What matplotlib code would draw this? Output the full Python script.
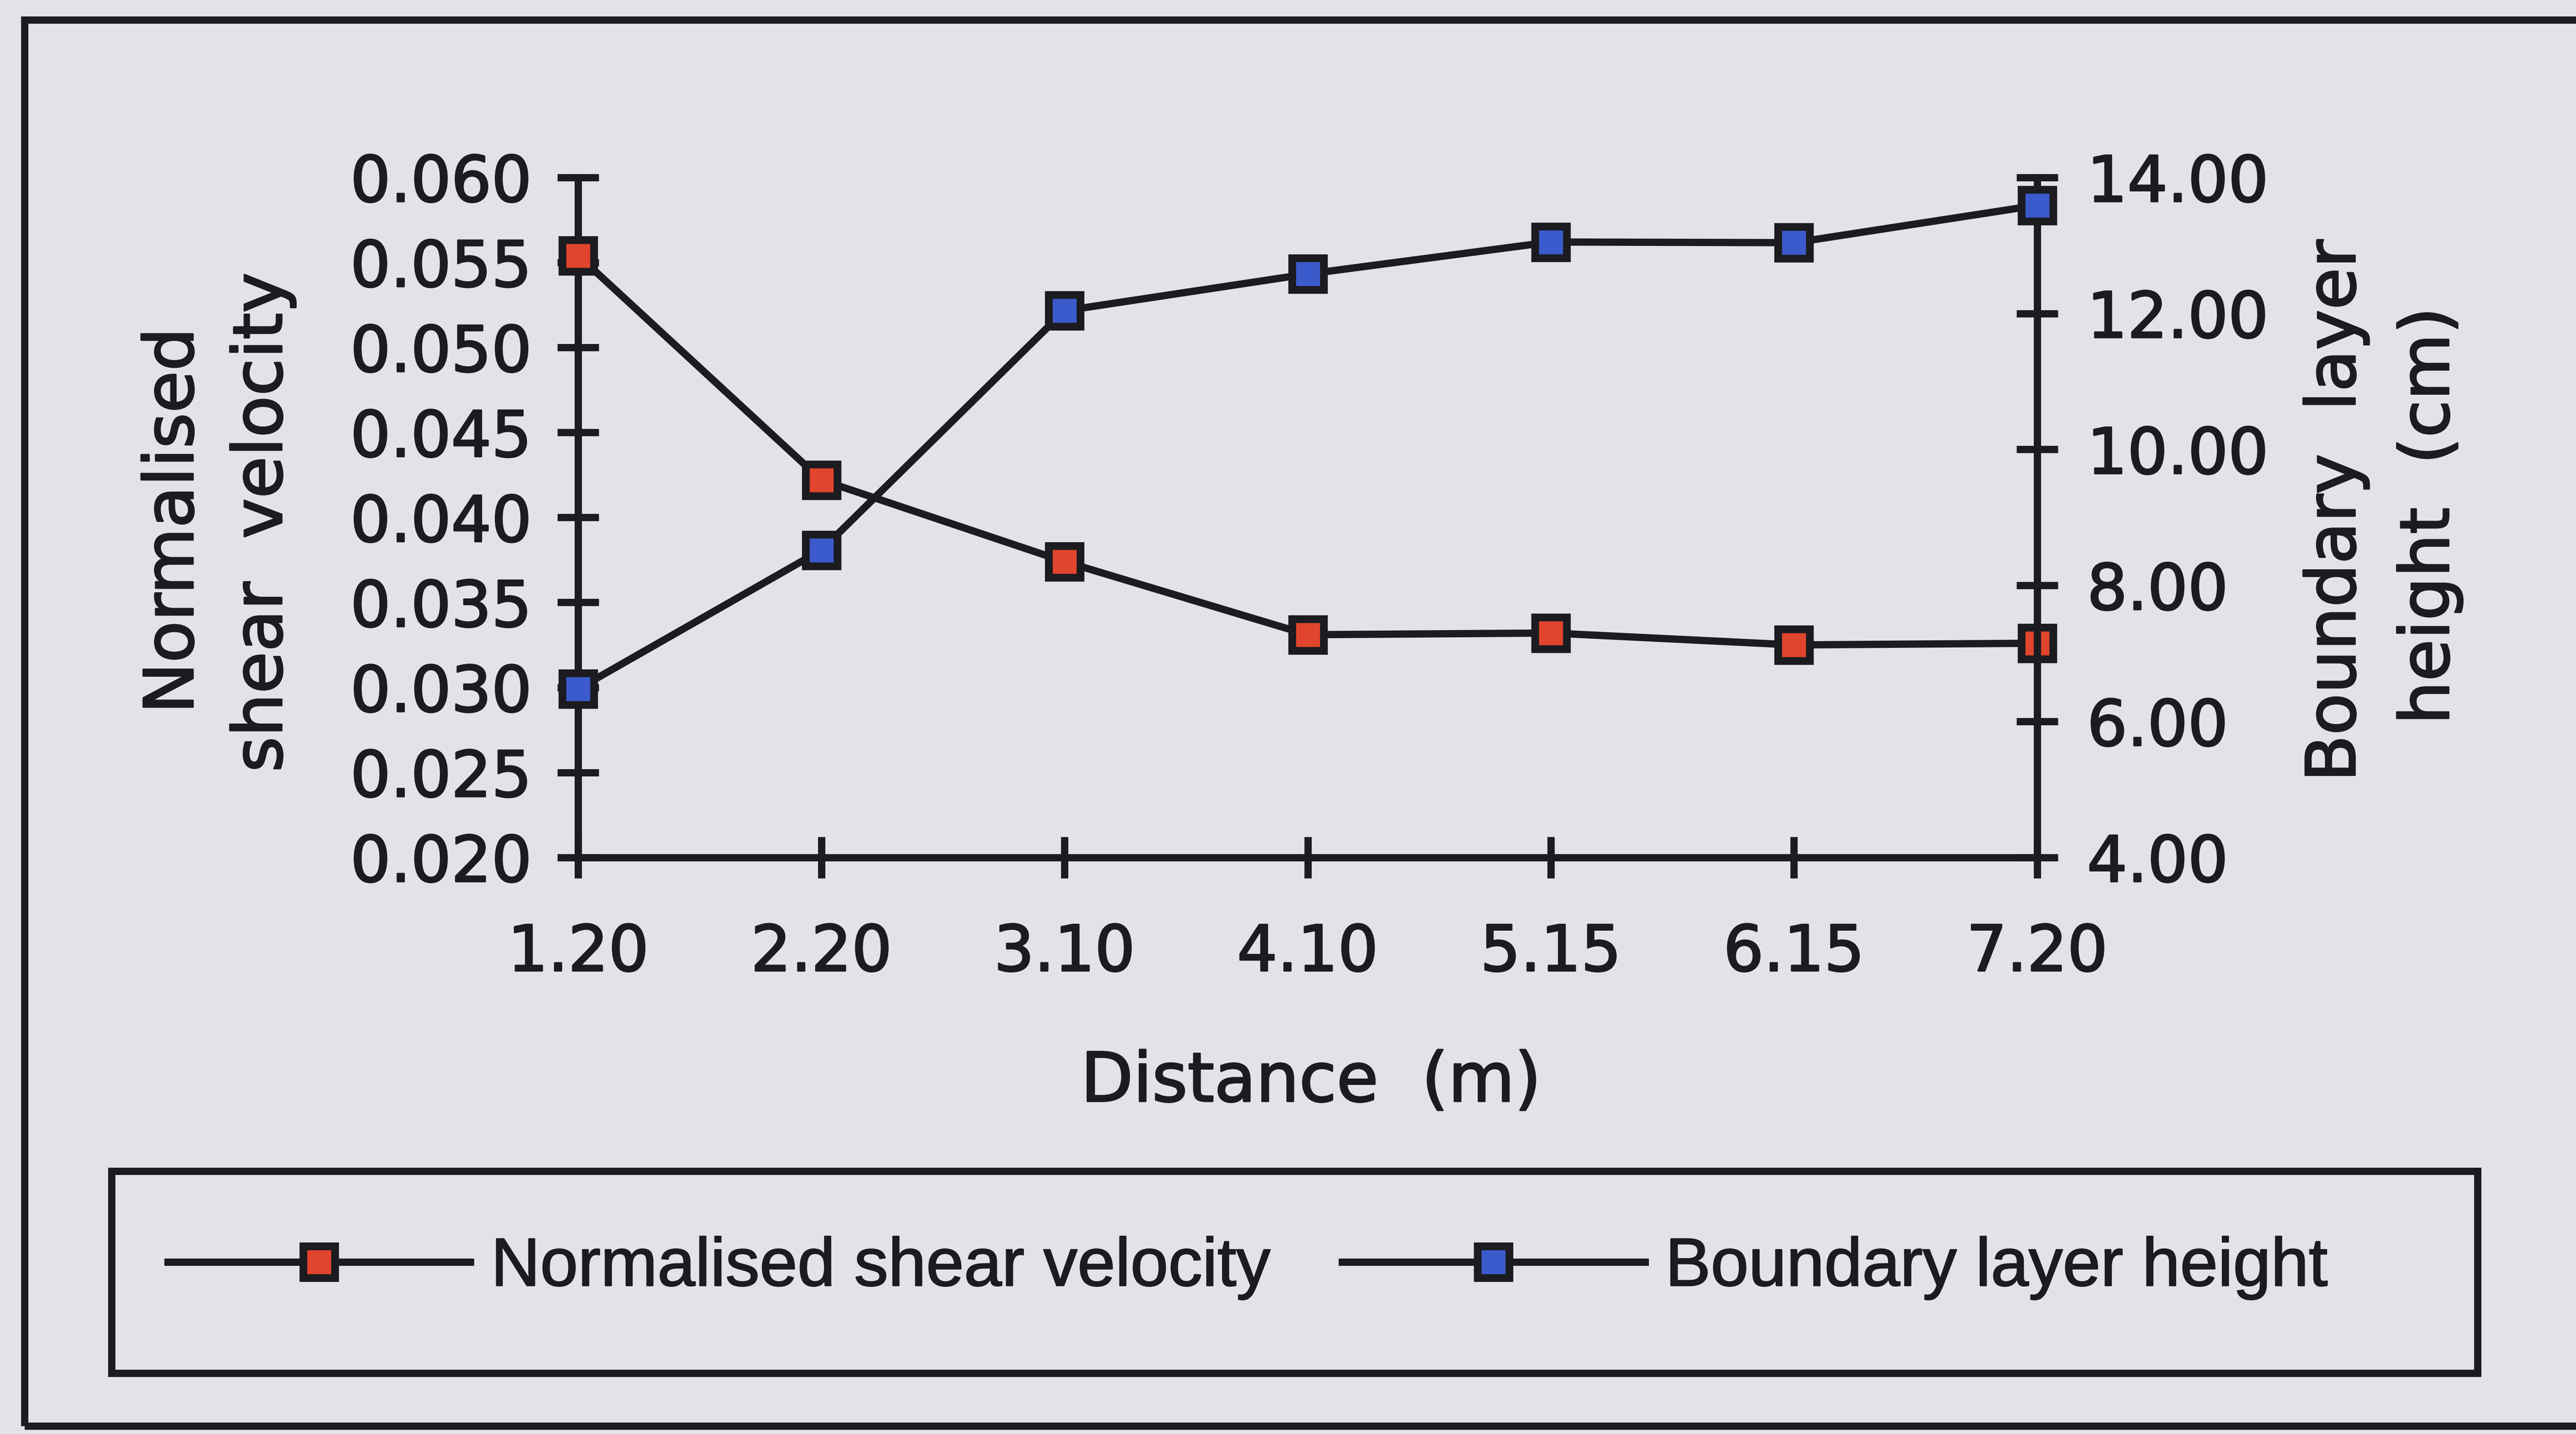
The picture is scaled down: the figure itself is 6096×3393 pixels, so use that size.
import matplotlib
matplotlib.use("Agg")
import matplotlib.pyplot as plt
import matplotlib.patheffects as pe
from matplotlib.patches import Rectangle
from matplotlib.ticker import FixedLocator, FormatStrFormatter

# --- data -------------------------------------------------------------
distances = ["1.20", "2.20", "3.10", "4.10", "5.15", "6.15", "7.20"]
shear_velocity = [0.0554, 0.0422, 0.0374, 0.0331, 0.0332, 0.0325, 0.0326]
layer_height = [6.48, 8.52, 12.04, 12.58, 13.05, 13.04, 13.59]

shear_ticks = [0.020, 0.025, 0.030, 0.035, 0.040, 0.045, 0.050, 0.055, 0.060]
height_ticks = [4.0, 6.0, 8.0, 10.0, 12.0, 14.0]

# --- layout helpers (page grid 1568 x 873) ----------------------------
GW, GH = 1568.0, 873.0


def fx(x):
    return x / GW


def fy(y):
    return 1.0 - y / GH


BG = "#e2e3e9"
INK = "#1b1b20"
RED = "#e0452d"
BLUE = "#3b5bcc"
LW = 3.1
TICK_FONT = "DejaVu Sans"
# slightly heavier glyphs, like printed ink
INKY = [pe.withStroke(linewidth=0.7, foreground=INK)]

fig = plt.figure(figsize=(15.24, 8.4825), dpi=400, facecolor=BG)

ax = fig.add_axes([fx(352), fy(522), fx(1240) - fx(352), fy(108) - fy(522)])
ax.set_facecolor("none")
ax2 = ax.twinx()

x = list(range(len(distances)))

marker_kw = dict(marker="s", markersize=13.5, markeredgecolor=INK,
                 markeredgewidth=3.3, clip_on=False, zorder=3)
line_shear, = ax.plot(x, shear_velocity, color=INK, lw=LW,
                      markerfacecolor=RED, label="Normalised shear velocity",
                      **marker_kw)
line_height, = ax2.plot(x, layer_height, color=INK, lw=LW,
                        markerfacecolor=BLUE, label="Boundary layer height",
                        **marker_kw)

ax.set_xlim(0, len(distances) - 1)
ax.set_ylim(shear_ticks[0], shear_ticks[-1])
ax2.set_ylim(height_ticks[0], height_ticks[-1])

ax.set_xticks(x)
ax.set_xticklabels(distances)
ax.yaxis.set_major_locator(FixedLocator(shear_ticks))
ax.yaxis.set_major_formatter(FormatStrFormatter("%.3f"))
ax2.yaxis.set_major_locator(FixedLocator(height_ticks))
ax2.yaxis.set_major_formatter(FormatStrFormatter("%.2f"))

for s in ("top", "right"):
    ax.spines[s].set_visible(False)
for s in ("top", "left", "bottom"):
    ax2.spines[s].set_visible(False)
for sp in (ax.spines["left"], ax.spines["bottom"], ax2.spines["right"]):
    sp.set_linewidth(LW)
    sp.set_color(INK)

ax.tick_params(axis="both", direction="inout", length=17.5, width=LW,
               color=INK, labelcolor=INK, labelsize=27)
ax.tick_params(axis="x", pad=19)
ax.tick_params(axis="y", pad=11)
ax2.tick_params(axis="y", direction="inout", length=17.5, width=LW,
                color=INK, labelcolor=INK, labelsize=27, pad=12.5)
for lab in ax.get_xticklabels() + ax.get_yticklabels() + ax2.get_yticklabels():
    lab.set_family(TICK_FONT)
    lab.set_path_effects(INKY)

# --- axis titles ------------------------------------------------------
title_kw = dict(fontsize=29, color=INK, family=TICK_FONT,
                ha="center", va="center", path_effects=INKY)
fig.text(fx(106), fy(317), "Normalised", rotation=90, **title_kw)
fig.text(fx(160), fy(318), "shear  velocity", rotation=90, **title_kw)
fig.text(fx(1422), fy(311), "Boundary  layer", rotation=90, **title_kw)
fig.text(fx(1479), fy(314), "height  (cm)", rotation=90, **title_kw)
fig.text(fx(798), fy(659), "Distance  (m)", **title_kw)

# --- frames -----------------------------------------------------------
fig.patches.append(Rectangle((fx(15), fy(868)), 1.2, fy(12) - fy(868),
                             transform=fig.transFigure, fill=False,
                             lw=LW, ec=INK, zorder=0))
fig.patches.append(Rectangle((fx(68), fy(836)), fx(1508) - fx(68),
                             fy(713) - fy(836), transform=fig.transFigure,
                             fill=False, lw=LW, ec=INK, zorder=0))

# --- legend -----------------------------------------------------------
leg = fig.legend([line_shear, line_height],
                 [line_shear.get_label(), line_height.get_label()],
                 loc="center left", bbox_to_anchor=(fx(102), fy(772)), ncol=2,
                 frameon=False, prop={"family": "Liberation Sans", "size": 29},
                 labelcolor=INK, handlelength=4.45, handletextpad=0.3,
                 columnspacing=1.05, borderpad=0, borderaxespad=0, numpoints=1)
for t in leg.get_texts():
    t.set_path_effects([pe.withStroke(linewidth=0.5, foreground=INK)])

fig.savefig("out.png", dpi=400, facecolor=BG)
